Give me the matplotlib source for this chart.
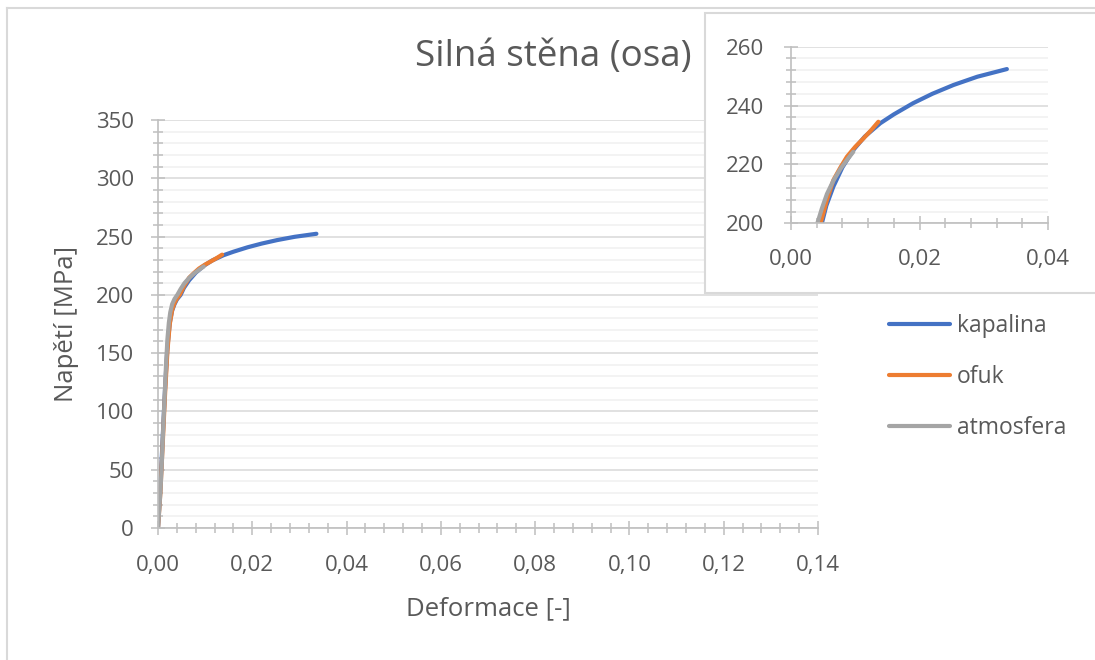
import matplotlib.pyplot as plt
from matplotlib.ticker import MultipleLocator, FuncFormatter
from matplotlib.patches import Rectangle
from matplotlib.lines import Line2D

plt.rcParams['font.family'] = ['Open Sans', 'DejaVu Sans']

# data
x_kapalina = [0, 0.0005, 0.001, 0.0015, 0.002, 0.0025, 0.003, 0.0035, 0.004, 0.0048,
              0.0055, 0.0066, 0.008, 0.0097, 0.0115, 0.0139, 0.016, 0.019, 0.022,
              0.0253, 0.029, 0.0336]
y_kapalina = [0, 35, 78, 120, 155, 176, 186.5, 192, 196, 200,
              206, 212.5, 219, 224.9, 229.5, 234, 237, 240.8, 244,
              247, 249.8, 252.4]

x_ofuk = [0, 0.0005, 0.001, 0.0015, 0.002, 0.0025, 0.003, 0.0035, 0.004, 0.0046,
          0.0056, 0.0066, 0.0077, 0.0087, 0.01, 0.0113, 0.0125, 0.0136]
y_ofuk = [0, 30, 72, 115, 152, 175, 187, 193, 196.8, 200,
          208, 214.7, 219, 222.6, 226, 228.9, 231.7, 234.5]

x_atmosfera = [0, 0.0002, 0.0005, 0.0008, 0.0011, 0.0014, 0.0017, 0.0020, 0.0023,
               0.0026, 0.0030, 0.0035, 0.0041, 0.0048, 0.0056, 0.0066, 0.0077,
               0.0087, 0.0097]
y_atmosfera = [0, 12, 30, 55, 85, 112, 140, 162, 176,
               185, 192, 196.5, 200, 205, 210, 214.5, 218.5,
               221.5, 224.3]

labels = ['kapalina', 'ofuk', 'atmosfera']
colors = ['#4472c4', '#ed7d31', '#a5a5a5']
series = [(x_kapalina, y_kapalina), (x_ofuk, y_ofuk), (x_atmosfera, y_atmosfera)]

txt = '#595959'
W, H = 1095, 660


def fmt(v, pos):
    return f'{v:.2f}'.replace('.', ',')


def style_axes(ax, ymaj, ymin, fs, xpad, ypad):
    for s in ['top', 'right']:
        ax.spines[s].set_visible(False)
    for s in ['left', 'bottom']:
        ax.spines[s].set_color('#bfbfbf')
        ax.spines[s].set_linewidth(1.2)
    ax.xaxis.set_major_locator(MultipleLocator(0.02))
    ax.xaxis.set_minor_locator(MultipleLocator(0.004))
    ax.yaxis.set_major_locator(MultipleLocator(ymaj))
    ax.yaxis.set_minor_locator(MultipleLocator(ymin))
    ax.xaxis.set_major_formatter(FuncFormatter(fmt))
    ax.tick_params(which='major', direction='inout', length=10, width=1.1,
                   color='#bfbfbf', labelcolor=txt, labelsize=fs)
    ax.tick_params(which='minor', direction='inout', length=6.5, width=1.1,
                   color='#bfbfbf')
    ax.tick_params(axis='x', which='major', pad=xpad)
    ax.tick_params(axis='y', which='major', pad=ypad)
    ax.grid(axis='y', which='major', color='#d9d9d9', linewidth=1.1)
    ax.grid(axis='y', which='minor', color='#f0f0f0', linewidth=1.1)
    ax.set_axisbelow(True)


fig = plt.figure(figsize=(W / 100, H / 100), dpi=100)

# outer chart frame
fig.add_artist(Line2D([7 / W, 7 / W], [0, 1 - 8 / H], color='#d9d9d9', lw=1.5))
fig.add_artist(Line2D([7 / W, 1], [1 - 8 / H, 1 - 8 / H], color='#d9d9d9', lw=1.5))

ax = fig.add_axes([158 / W, 1 - 528 / H, 660 / W, 408 / H])
ax.set_zorder(0)
for (xs, ys), c, lab in zip(series, colors, labels):
    ax.plot(xs, ys, color=c, linewidth=3, label=lab, solid_capstyle='round')
ax.set_xlim(0, 0.14)
ax.set_ylim(0, 350)
style_axes(ax, 50, 10, 16, 14.5, 12.5)
ax.set_xlabel('Deformace [-]', color=txt, fontsize=18.5)
ax.set_ylabel('Napětí [MPa]', color=txt, fontsize=18.5)
ax.xaxis.set_label_coords(0.5, -(596 - 528) / 408)
ax.yaxis.set_label_coords(-(158 - 79) / 660, 0.5)

fig.text(553 / W, 1 - 57 / H, 'Silná stěna (osa)', color=txt, fontsize=26.5,
         ha='center', va='center')

leg = ax.legend(loc='upper left', bbox_to_anchor=(889 / W, 1 - 314 / H),
                bbox_transform=fig.transFigure, frameon=False, fontsize=16.5,
                labelspacing=1.17, handlelength=2.66, handletextpad=0.3,
                borderaxespad=0, borderpad=0)
for t in leg.get_texts():
    t.set_color(txt)

# inset frame
fig.add_artist(Rectangle((705 / W, 1 - 293 / H), 1, 280 / H, transform=fig.transFigure,
                         facecolor='white', edgecolor='#d9d9d9', lw=1.5, zorder=1))

ax2 = fig.add_axes([791 / W, 1 - 223.3 / H, 257 / W, 176.6 / H])
ax2.set_zorder(2)
ax2.patch.set_alpha(0)
for (xs, ys), c in zip(series, colors):
    ax2.plot(xs, ys, color=c, linewidth=3, solid_capstyle='round')
ax2.set_xlim(0, 0.04)
ax2.set_ylim(200, 260)
style_axes(ax2, 20, 4, 16, 13.5, 14.5)

fig.savefig('out.png', dpi=100)
